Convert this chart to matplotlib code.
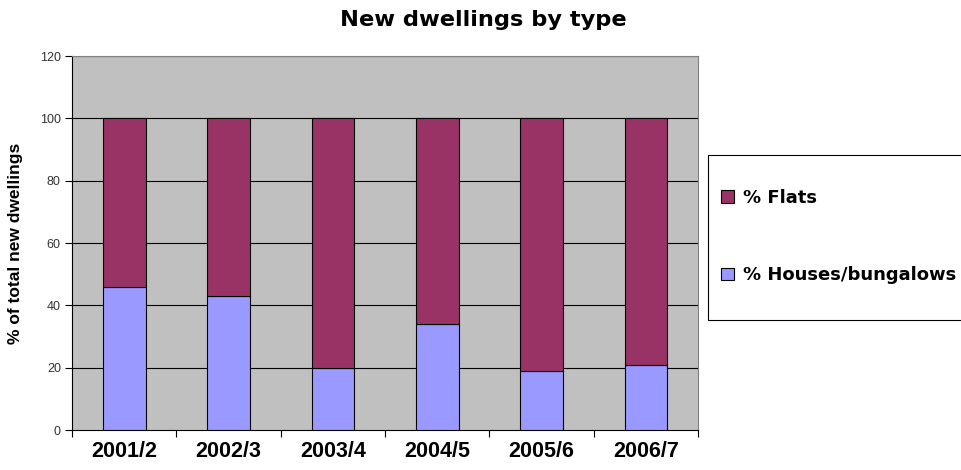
import numpy as np
import matplotlib.pyplot as plt
from matplotlib.patches import Rectangle

plt.rcParams['font.family'] = ['Liberation Sans', 'DejaVu Sans']

years = ['2001/2', '2002/3', '2003/4', '2004/5', '2005/6', '2006/7']
houses = [46, 43, 20, 34, 19, 21]
flats = [54, 57, 80, 66, 81, 79]

c_flats = '#993366'
c_houses = '#9999FF'

fig = plt.figure(figsize=(9.62, 4.70), dpi=100)
ax = fig.add_axes([0.0748, 0.0851, 0.651, 0.7957])
ax.set_facecolor('#C0C0C0')

x = np.arange(len(years))
w = 0.41
b1 = ax.bar(x, houses, w, color=c_houses, edgecolor='black', linewidth=0.8,
            zorder=3, label='% Houses/bungalows')
b2 = ax.bar(x, flats, w, bottom=houses, color=c_flats, edgecolor='black',
            linewidth=0.8, zorder=3, label='% Flats')

ax.set_xlim(-0.5, len(years) - 0.5)
ax.set_ylim(0, 120)
ax.set_yticks(range(0, 121, 20))
for v in range(20, 121, 20):
    ax.axhline(v, color='black', linewidth=0.8, zorder=1)

# category labels centred, tick marks on the boundaries
ax.set_xticks(np.arange(-0.5, len(years)), minor=False)
ax.set_xticklabels([])
ax.set_xticks(x, minor=True)
ax.set_xticklabels(years, minor=True, fontsize=15.5, fontweight='bold')
ax.tick_params(axis='x', which='minor', length=0, pad=8)
ax.tick_params(axis='x', which='major', length=5, direction='out')
ax.tick_params(axis='y', length=5, direction='out', labelsize=9,
               labelcolor='#333333', pad=3)

for s in ['top', 'right']:
    ax.spines[s].set_color('#808080')
ax.spines['left'].set_color('black')
ax.spines['bottom'].set_color('black')

ax.set_ylabel('% of total new dwellings', fontsize=12.5, fontweight='bold',
              labelpad=12)
fig.text(0.502, 0.957, 'New dwellings by type', ha='center', va='center',
         fontsize=16.2, fontweight='bold', family='DejaVu Sans')

# legend box running off the right edge
fig.patches.append(Rectangle((0.736, 0.319), 0.3, 0.351,
                             transform=fig.transFigure, facecolor='white',
                             edgecolor='black', linewidth=0.8))
fig.legend([b2, b1], ['% Flats', '% Houses/bungalows'],
           loc='center left', bbox_to_anchor=(0.7325, 0.497),
           frameon=False,
           prop={'size': 13, 'weight': 'bold', 'family': 'DejaVu Sans'},
           handlelength=0.7, handleheight=0.7, handletextpad=0.5,
           labelspacing=3.3)

fig.savefig('out.png', dpi=100)
